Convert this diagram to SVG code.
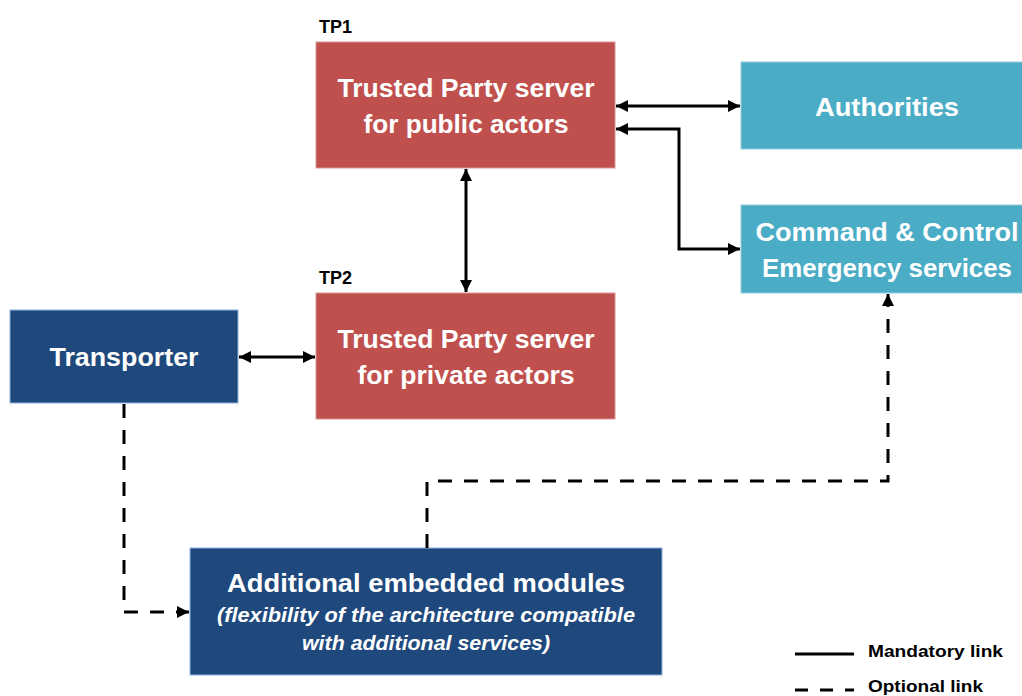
<svg xmlns="http://www.w3.org/2000/svg" width="1022" height="696" viewBox="0 0 1022 696">
<style>
.red{fill:#C0504D;stroke:#D99694;stroke-width:1}
.cyan{fill:#4BACC6;stroke:#93CDDD;stroke-width:1}
.navy{fill:#1F497D;stroke:#8EB4E3;stroke-width:1}
.t{font-family:"Liberation Sans",Arial,sans-serif;font-weight:bold;fill:#fff;text-anchor:middle;font-size:26px}
.it{font-family:"Liberation Sans",Arial,sans-serif;font-weight:bold;font-style:italic;fill:#fff;text-anchor:middle;font-size:20px}
.lbl{font-family:"Liberation Sans",Arial,sans-serif;font-weight:bold;fill:#000;font-size:18px}
.leg{font-family:"Liberation Sans",Arial,sans-serif;font-weight:bold;fill:#000;font-size:16px}
.solid{fill:none;stroke:#000;stroke-width:3}
.dash{fill:none;stroke:#000;stroke-width:3;stroke-dasharray:14 12}
</style>
<defs>
<marker id="ah" markerUnits="userSpaceOnUse" markerWidth="12" markerHeight="12" viewBox="0 0 12 12" refX="12" refY="6" orient="auto-start-reverse">
<path d="M0,0 L12,6 L0,12 z" fill="#000"/>
</marker>
</defs>
<rect width="1022" height="696" fill="#fff"/>
<g id="tp1">
<text class="lbl" x="319" y="33">TP1</text>
<rect class="red" x="316" y="42" width="299" height="126"/>
<text class="t" x="466" y="97" textLength="257" lengthAdjust="spacingAndGlyphs">Trusted Party server</text>
<text class="t" x="466" y="133" textLength="205" lengthAdjust="spacingAndGlyphs">for public actors</text>
</g>
<g id="tp2">
<text class="lbl" x="319" y="284">TP2</text>
<rect class="red" x="316" y="293" width="299" height="126"/>
<text class="t" x="466" y="348" textLength="257" lengthAdjust="spacingAndGlyphs">Trusted Party server</text>
<text class="t" x="466" y="384" textLength="217" lengthAdjust="spacingAndGlyphs">for private actors</text>
</g>
<g id="authorities">
<rect class="cyan" x="741" y="62" width="290" height="87"/>
<text class="t" x="887" y="116" textLength="144" lengthAdjust="spacingAndGlyphs">Authorities</text>
</g>
<g id="command">
<rect class="cyan" x="741" y="205" width="290" height="88"/>
<text class="t" x="887" y="241" textLength="263" lengthAdjust="spacingAndGlyphs">Command &amp; Control</text>
<text class="t" x="887" y="277" textLength="250" lengthAdjust="spacingAndGlyphs">Emergency services</text>
</g>
<g id="transporter">
<rect class="navy" x="10" y="310" width="228" height="93"/>
<text class="t" x="124" y="366" textLength="149" lengthAdjust="spacingAndGlyphs">Transporter</text>
</g>
<g id="modules">
<rect class="navy" x="190" y="548" width="472" height="127"/>
<text class="t" x="426" y="592" textLength="398" lengthAdjust="spacingAndGlyphs">Additional embedded modules</text>
<text class="it" x="426" y="622" textLength="418" lengthAdjust="spacingAndGlyphs">(flexibility of the architecture compatible</text>
<text class="it" x="426" y="650" textLength="248" lengthAdjust="spacingAndGlyphs">with additional services)</text>
</g>
<g id="connectors">
<line class="solid" x1="616" y1="106" x2="740" y2="106" marker-start="url(#ah)" marker-end="url(#ah)"/>
<polyline class="solid" points="616,129 679,129 679,249 740,249" marker-start="url(#ah)" marker-end="url(#ah)"/>
<line class="solid" x1="466" y1="169" x2="466" y2="292" marker-start="url(#ah)" marker-end="url(#ah)"/>
<line class="solid" x1="239" y1="357" x2="315" y2="357" marker-start="url(#ah)" marker-end="url(#ah)"/>
<polyline class="dash" points="124,404 124,612 189,612" marker-end="url(#ah)"/>
<polyline class="dash" points="427,548 427,481 888,481 888,294" marker-end="url(#ah)"/>
</g>
<g id="legend">
<line class="solid" x1="795" y1="654" x2="854" y2="654"/>
<text class="leg" x="868" y="657" textLength="135" lengthAdjust="spacingAndGlyphs">Mandatory link</text>
<line class="dash" x1="795" y1="690" x2="854" y2="690" style="stroke-dasharray:13 12"/>
<text class="leg" x="868" y="692" textLength="115" lengthAdjust="spacingAndGlyphs">Optional link</text>
</g>
</svg>
